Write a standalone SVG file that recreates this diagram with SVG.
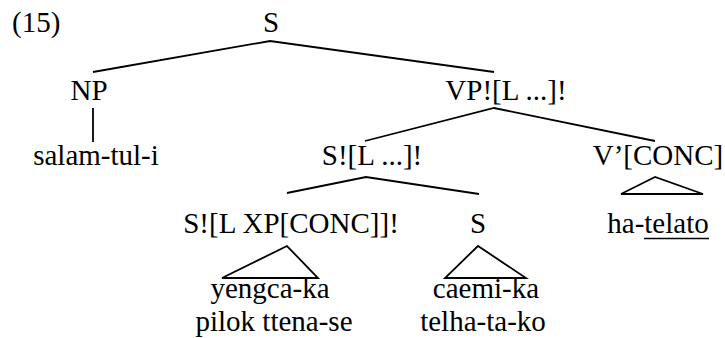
<svg xmlns="http://www.w3.org/2000/svg" width="725" height="338" viewBox="0 0 725 338">
<style>
text{font-size:29px;fill:#000;text-anchor:middle}
.l{text-anchor:start}
line,polyline,polygon{stroke:#000;stroke-width:1.8;fill:none}
</style>
<rect width="725" height="338" fill="#fff"/>
<g font-family="'Liberation Serif', 'Times New Roman', Tinos, 'DejaVu Serif', serif">
<text class="l" x="12" y="32">(15)</text>
<g id="connectors">
<polyline points="93,72 270,41 494,72"/>
<line x1="93" y1="108" x2="93" y2="142"/>
<polyline points="365,141 494,108 655,141"/>
<polyline points="287,193 366,177 479,194"/>
<polygon points="287,246 222,278 318,278"/>
<polygon points="478,246 445,278 526,278"/>
<polygon points="655,177 621,194 703,194"/>
</g>
<g id="n-S"><text x="271" y="32">S</text></g>
<g id="n-NP"><text x="89" y="100">NP</text></g>
<g id="n-VP"><text x="506" y="100">VP![L ...]!</text></g>
<g id="n-salam"><text x="96" y="165">salam-tul-i</text></g>
<g id="n-SL"><text x="372" y="165">S![L ...]!</text></g>
<g id="n-V"><text x="658" y="165">V’[CONC]</text></g>
<g id="n-SLXP"><text x="291" y="233">S![L XP[CONC]]!</text></g>
<g id="n-S2"><text x="478" y="233">S</text></g>
<g id="n-hatelato"><text x="658" y="233">ha-telato</text><line x1="644" y1="238.5" x2="709" y2="238.5" style="stroke-width:1.5"/></g>
<g id="n-yengca"><text x="270" y="298">yengca-ka</text><text x="274" y="331">pilok ttena-se</text></g>
<g id="n-caemi"><text x="486" y="298">caemi-ka</text><text x="483" y="331">telha-ta-ko</text></g>
</g>
</svg>
